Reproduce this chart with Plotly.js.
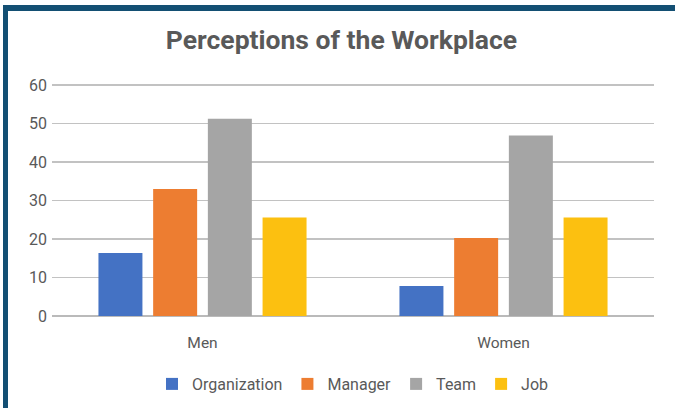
<!DOCTYPE html>
<html>
<head>
<meta charset="utf-8">
<script src="https://cdn.plot.ly/plotly-3.0.1.min.js"></script>
<style>
  html, body { margin: 0; padding: 0; background: #ffffff; width: 675px; height: 408px; overflow: hidden; }
  #frame { position: absolute; left: 3px; top: 5px; width: 672px; height: 403px;
           border-top: 6px solid #134f73; border-left: 5px solid #134f73; box-sizing: border-box; background: #fff; }
  #chart { position: absolute; left: 0; top: 0; width: 667px; height: 397px; }
</style>
</head>
<body>
<div id="frame"><div id="chart"></div></div>
<script>
const categories = ["Men", "Women"];
const seriesNames = ["Organization", "Manager", "Team", "Job"];
const organization = [16.4, 7.8];
const manager = [33.0, 20.3];
const team = [51.3, 46.9];
const job = [25.6, 25.6];
const yTicks = [0, 10, 20, 30, 40, 50, 60];
const colors = ["#4472C4", "#ED7D31", "#A5A5A5", "#FCC010"];

const values = [organization, manager, team, job];
const data = seriesNames.map((name, i) => ({
  type: "bar",
  name: name,
  x: categories,
  y: values[i],
  marker: { color: colors[i] },
  hoverinfo: "skip"
}));

const textColor = "#595959";
const layout = {
  width: 667,
  height: 397,
  margin: { l: 44, r: 21, t: 73, b: 92, autoexpand: false },
  paper_bgcolor: "#ffffff",
  plot_bgcolor: "#ffffff",
  font: { family: "Roboto, sans-serif", size: 15, color: textColor },
  title: {
    text: "<b>Perceptions of the Workplace</b>",
    font: { family: "Roboto, sans-serif", size: 26.5, color: textColor },
    x: 0.5, xanchor: "center", y: 1 - 29 / 397, yanchor: "middle"
  },
  barmode: "group",
  bargap: 0.273,
  bargroupgap: 0.196,
  xaxis: {
    type: "category",
    tickfont: { size: 15.5, color: textColor },
    ticks: "",
    showline: false,
    ticklabelstandoff: 15,
    automargin: false,
    fixedrange: true
  },
  yaxis: {
    range: [0, 60.3],
    tickvals: yTicks,
    ticktext: yTicks.map(String),
    tickfont: { size: 16, color: textColor },
    showgrid: true,
    gridcolor: "#c2c2c2",
    gridwidth: 1.4,
    zeroline: true,
    zerolinecolor: "#bababa",
    zerolinewidth: 1.5,
    ticks: "",
    ticklabelstandoff: 4,
    automargin: false,
    fixedrange: true
  },
  showlegend: true,
  legend: {
    orientation: "h",
    x: 0.5, xanchor: "center",
    y: (305 - 373) / 232, yanchor: "middle",
    font: { size: 16, color: textColor },
    itemwidth: 30,
    traceorder: "normal"
  }
};

Plotly.newPlot("chart", data, layout, { displayModeBar: false, staticPlot: true });
</script>
</body>
</html>
